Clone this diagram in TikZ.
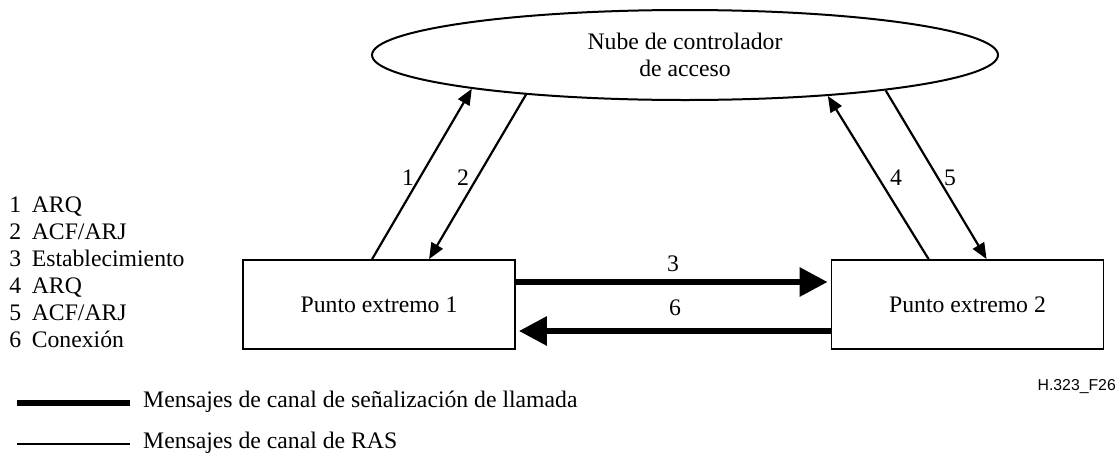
\documentclass[tikz,border=0pt]{standalone}
\usepackage{fontspec}
\setmainfont{Liberation Serif}
\newfontfamily\arialfont{Liberation Sans}
\usetikzlibrary{arrows.meta,shapes.geometric,calc}
\begin{document}
\begin{tikzpicture}[x=1pt,y=-1pt,
  txt/.style={font=\fontsize{23.7}{27}\selectfont, inner sep=0pt},
  box/.style={draw, line width=1.8pt, minimum width=272pt, minimum height=89pt, inner sep=0pt, txt},
  ras/.style={line width=2.2pt, -{Triangle[length=16pt,width=13pt]}},
  sig/.style={line width=6pt, -{Triangle[length=28pt,width=28pt]}},
  num/.style={txt}]
\useasboundingbox (0,0) rectangle (1120,456);
\node[draw, ellipse, line width=2pt, minimum width=626pt, minimum height=90pt, inner sep=0pt, align=center, txt] (cloud) at (685,55) {Nube de controlador\\de acceso};
\node[box] (p1) at (379,304.5) {Punto extremo 1};
\node[box] (p2) at (967.5,304.5) {Punto extremo 2};
% RAS arrows
\draw[ras] ($(p1.north west)+(130,0)$) -- (cloud.189.3);
\draw[ras] (cloud.194.5) -- ($(p1.north west)+(187,0)$);
\draw[ras] ($(p2.north west)+(98,0)$) -- (cloud.344.8);
\draw[ras] (cloud.350) -- ($(p2.north west)+(156,0)$);
\node[num] (n1) at (408,178) {1};
\node[num] (n2) at (463,178) {2};
\node[num] (n4) at (896,178) {4};
\node[num] (n5) at (950,178) {5};
% call signalling arrows
\draw[sig] ($(p1.east)+(0,-22.5)$) -- ($(p2.west)+(-3,-22.5)$);
\draw[sig] ($(p2.west)+(0,26.5)$) -- ($(p1.east)+(3,26.5)$);
\node[num] (n3) at (673,264) {3};
\node[num] (n6) at (675,308) {6};
% list
\node[txt] (list) at (97,275) {\begin{tabular}{@{}l@{\hspace{10.5pt}}l@{}}1&ARQ\\2&ACF/ARJ\\3&Establecimiento\\4&ARQ\\5&ACF/ARJ\\6&Conexión\end{tabular}};
% legend
\coordinate (l1a) at (17,403);
\coordinate (l1b) at (130,403);
\coordinate (l2a) at (17,444);
\coordinate (l2b) at (130,444);
\draw[line width=5.5pt] (l1a) -- (l1b);
\draw[line width=2.4pt] (l2a) -- (l2b);
\node[txt, anchor=west] (leg1) at (143,402) {Mensajes de canal de señalización de llamada};
\node[txt, anchor=west] (leg2) at (143,443) {Mensajes de canal de RAS};
\node[inner sep=0pt, anchor=east, font=\arialfont\fontsize{15.8}{18}\selectfont] (fig) at (1116,387) {H.323\_F26};
\end{tikzpicture}
\end{document}
